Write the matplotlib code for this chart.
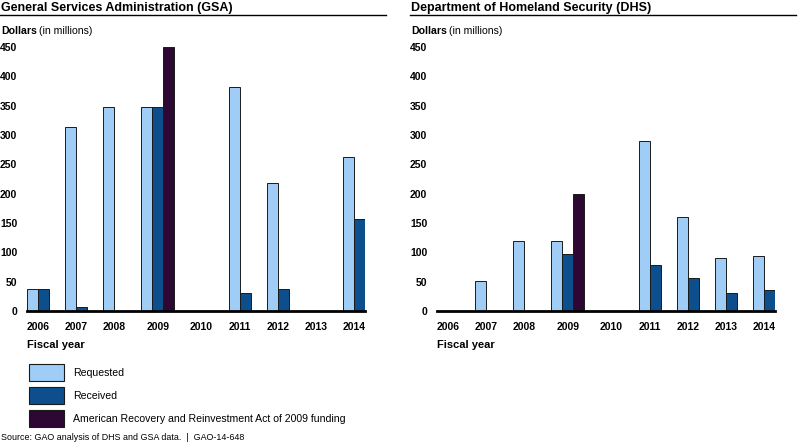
#!/usr/bin/env python3
"""GAO-14-648: requested vs received funding by fiscal year, GSA and DHS."""

import matplotlib
matplotlib.use("Agg")
import matplotlib.pyplot as plt
from matplotlib.patches import Rectangle
import numpy as np

plt.rcParams["font.family"] = ["Liberation Sans", "DejaVu Sans"]

years = ["2006", "2007", "2008", "2009", "2010", "2011", "2012", "2013", "2014"]

gsa_requested = [38, 314, 347, 347, 0, 381, 218, 0, 262]
gsa_received = [38, 6, 0, 347, 0, 30, 38, 0, 156]
gsa_arra = 450

dhs_requested = [0, 51, 120, 120, 0, 289, 160, 90, 93]
dhs_received = [0, 0, 0, 98, 0, 78, 57, 30, 35]
dhs_arra = 200

series_names = ["Requested", "Received",
                "American Recovery and Reinvestment Act of 2009 funding"]
colors = ["#9fcdf6", "#0d4f8d", "#2d0833"]
EDGE = "#1a1a1a"

W, H = 800, 447
fig = plt.figure(figsize=(W / 100, H / 100), dpi=100)


def px_axes(x0, x1, y_top, y_base):
    return fig.add_axes([x0 / W, (H - y_base) / H, (x1 - x0) / W, (y_base - y_top) / H])


def draw_panel(x_off, title, requested, received, arra):
    # title and rule
    fig.text((x_off + 1) / W, 1 - 8 / H, title, fontsize=9, fontweight="bold",
             ha="left", va="center")
    fig.add_artist(plt.Line2D([(x_off) / W, (x_off + 386) / W], [1 - 14.5 / H] * 2,
                              color="black", lw=1))
    t = fig.text((x_off + 1) / W, 1 - 31 / H, "Dollars", fontsize=7.6, fontweight="bold",
                 ha="left", va="center")
    fig.canvas.draw()
    bb = t.get_window_extent()
    fig.text(bb.x1 / W + 2 / W, 1 - 31 / H, "(in millions)", fontsize=7.6,
             ha="left", va="center")

    ax = px_axes(x_off + 27, x_off + 365, 47, 311)
    slots = [3 if y == "2009" else 2 for y in years]
    gap = (30.73 - sum(slots)) / (len(years) - 1)
    starts = np.concatenate([[0], np.cumsum(np.array(slots[:-1]) + gap)])
    centers = starts + np.array(slots) / 2

    ax.bar(starts, requested, width=1, align="edge", color=colors[0],
           edgecolor=EDGE, linewidth=0.7, zorder=2)
    ax.bar(starts + 1, received, width=1, align="edge", color=colors[1],
           edgecolor=EDGE, linewidth=0.7, zorder=2)
    i09 = years.index("2009")
    ax.bar([starts[i09] + 2], [arra], width=1, align="edge", color=colors[2],
           edgecolor=EDGE, linewidth=0.7, zorder=2)

    ax.set_xlim(0, starts[-1] + slots[-1])
    ax.set_ylim(0, 450)
    ax.set_yticks(range(0, 451, 50))
    ax.set_xticks(centers)
    ax.set_xticklabels(years)
    for s in ["top", "right", "left"]:
        ax.spines[s].set_visible(False)
    ax.spines["bottom"].set_linewidth(2)
    ax.spines["bottom"].set_zorder(3)
    ax.tick_params(axis="both", length=0, labelsize=7.5)
    ax.tick_params(axis="y", pad=7)
    ax.tick_params(axis="x", pad=8)
    for lab in ax.get_xticklabels() + ax.get_yticklabels():
        lab.set_fontweight("bold")
    fig.text((x_off + 27) / W, 1 - 345 / H, "Fiscal year", fontsize=8,
             fontweight="bold", ha="left", va="center")
    return ax


draw_panel(0, "General Services Administration (GSA)", gsa_requested, gsa_received, gsa_arra)
draw_panel(410, "Department of Homeland Security (DHS)", dhs_requested, dhs_received, dhs_arra)

# legend
box_tops = [364, 387, 410]
for name, col, top in zip(series_names, colors, box_tops):
    fig.add_artist(Rectangle((29 / W, 1 - (top + 17) / H), 35 / W, 17 / H,
                             transform=fig.transFigure, facecolor=col,
                             edgecolor=EDGE, linewidth=0.8))
    fig.text(73 / W, 1 - (top + 9) / H, name, fontsize=7.6, ha="left", va="center")

fig.text(1 / W, 1 - 438 / H, "Source: GAO analysis of DHS and GSA data.  |  GAO-14-648",
         fontsize=6.4, ha="left", va="center")

fig.savefig("out.png", dpi=100)
